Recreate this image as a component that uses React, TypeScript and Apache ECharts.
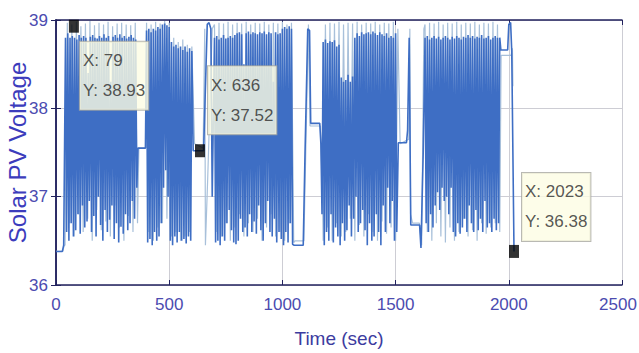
import React, { useEffect, useRef } from "react";
import * as echarts from "echarts";

// ---------- data ----------
// dark (main) trace
const leadDark = [[0, 36.38], [28, 36.38], [34, 36.45]];
const blockADark = [
  38.8, 36.6, 38.85, 36.5, 38.8, 36.7, 38.82, 36.55, 38.8, 36.62, 38.78, 36.8, 38.83, 36.58, 38.8, 36.9,
  38.82, 36.65, 38.8, 36.72, 38.4, 36.95, 38.81, 36.6, 38.83, 36.78, 38.8, 36.55, 38.79, 37.0, 38.82, 36.68,
  38.8, 36.5, 38.84, 36.85, 38.8, 36.6, 38.82, 36.74, 38.3, 36.9, 38.81, 36.52, 38.83, 36.7, 38.8, 36.48,
  38.84, 36.66, 38.8, 36.58, 38.82, 36.8, 38.79, 36.62, 38.81, 36.7, 38.83, 36.95, 38.8, 36.75, 38.78, 37.1,
];
const gapABDark = [[362, 37.55], [395, 37.55]];
const blockBDark = [
  38.88, 36.48, 38.9, 36.52, 38.86, 36.45, 38.9, 36.6, 38.88, 36.5, 38.92, 36.55, 38.9, 36.7,
  38.95, 37.1, 38.96, 37.3, 38.94, 37.0, 38.92,
  36.5, 38.75, 36.45, 38.7, 36.55, 38.72, 36.48, 38.68, 36.6, 38.7, 36.5, 38.66, 36.52, 38.7, 36.47, 38.64, 36.55, 38.68, 36.5, 38.65,
];
const gapBCDark = [[606, 37.52], [652, 37.52], [668, 38.95], [676, 38.97], [684, 38.9], [690, 37.0]];
const blockCDark = [
  38.8, 36.48, 38.82, 36.5, 38.78, 36.45, 38.8, 36.55, 38.83, 36.5, 38.79, 36.7, 38.8, 36.85, 38.82, 36.62, 38.8, 36.48, 38.83, 36.46,
  38.85, 36.5, 38.86, 36.75, 38.84, 36.6, 38.5, 36.65, 38.85, 36.55, 38.87, 36.8, 38.84, 36.6, 38.86, 36.72, 38.85, 36.58, 38.84, 36.9,
  38.86, 36.62, 38.85, 36.5, 38.87, 36.7, 38.84, 36.95, 38.86, 36.6, 38.85, 36.55, 38.3, 36.75, 38.86, 36.48, 38.84, 36.6, 38.85, 36.52,
  38.9, 36.45, 38.92, 36.6, 38.9, 36.48, 38.93, 36.7, 38.9, 36.46,
];
const gapCDDark = [[1052, 36.45], [1092, 36.45], [1100, 37.5], [1112, 38.9], [1120, 38.88], [1125, 37.83], [1165, 37.83], [1170, 37.6], [1175, 36.8]];
const blockDDark = [
  38.75, 36.45, 38.78, 36.6, 38.74, 36.5, 38.76, 36.8, 38.75, 36.48, 38.77, 36.65, 38.7, 36.55, 38.72, 36.45, 38.35, 36.7, 38.3, 36.5,
  38.32, 36.62, 38.38, 36.9, 38.3, 36.55, 38.36, 36.75, 38.8, 37.0, 38.85, 36.6, 38.82, 36.7, 38.86, 36.85, 38.84, 36.62, 38.85, 36.45,
  38.86, 36.7, 38.84, 36.5, 38.87, 36.55, 38.85, 36.8, 38.83, 36.6, 38.86, 36.45, 38.84, 36.9, 38.82, 36.6, 38.85, 37.1, 38.8, 36.7,
  38.82, 36.95, 38.8, 36.5, 38.85, 36.6,
];
const gapDEDark = [[1512, 37.61], [1548, 37.61], [1553, 37.75], [1560, 38.8], [1567, 36.68], [1606, 36.68], [1612, 36.42], [1622, 37.5]];
const blockEDark = [
  38.8, 36.7, 38.82, 36.6, 38.78, 36.8, 38.8, 36.65, 38.82, 36.9, 38.79, 37.05, 38.81, 36.85, 38.78, 37.1, 38.8, 36.95, 38.82, 37.0,
  38.8, 36.8, 38.78, 37.1, 38.81, 36.6, 38.79, 36.55, 38.82, 36.7, 38.8, 36.58, 38.78, 36.65, 38.81, 36.75, 38.8, 36.6, 38.83, 36.9,
  38.8, 36.7, 38.82, 36.6, 38.79, 36.85, 38.81, 36.62, 38.8, 36.75, 38.83, 36.6, 38.79, 36.95, 38.8, 36.65, 38.82, 36.7, 38.78, 36.6,
  38.8, 36.75, 38.82, 36.62, 38.8, 36.7, 38.8,
];
const tailDark = [[1965, 38.66], [1995, 38.66], [2000, 38.95], [2008, 38.97], [2013, 38.65], [2023, 36.38]];

// light (secondary) trace
const leadLight = [[0, 36.38], [30, 36.38], [36, 36.45]];
const blockALight = [
  36.45, 38.97, 36.7, 38.95, 36.55, 38.98, 36.8, 38.93, 36.6, 38.96, 36.75, 38.99, 36.5, 38.94, 36.85, 38.97,
  36.62, 38.95, 36.72, 38.98, 36.55, 38.93, 36.9, 38.96, 36.65, 38.97, 36.5, 38.95, 36.78, 38.94, 36.6, 38.97, 36.7,
];
const gapABLight = [[366, 37.55], [396, 37.55]];
const blockBLight = [
  38.97, 36.6, 38.95, 36.5, 38.98, 36.65, 38.96, 36.7, 38.99, 36.75, 38.97, 36.55, 38.8, 36.6, 38.75, 36.5, 38.78, 36.55, 38.72, 36.6, 38.7,
];
const gapBCLight = [[612, 37.6], [650, 37.55], [657, 38.9], [660, 36.45], [670, 37.2], [690, 38.9]];
const blockCLight = [
  38.95, 36.6, 38.97, 36.55, 38.96, 36.7, 38.98, 36.5, 38.95, 36.65, 38.97, 36.8, 38.96, 36.55, 38.98, 36.7, 38.95, 36.6,
  38.97, 36.75, 38.96, 36.5, 38.98, 36.65, 38.95, 36.8, 38.97, 36.55, 38.96, 36.6, 38.98, 36.5, 38.95, 36.7, 38.97, 36.48,
];
const gapCDLight = [[1056, 36.5], [1095, 36.5], [1115, 38.95], [1122, 37.8], [1168, 37.8], [1178, 36.9]];
const blockDLight = [
  36.5, 38.95, 36.65, 38.97, 36.5, 38.96, 36.7, 38.98, 36.55, 38.95, 36.6, 38.97, 36.75, 38.96, 36.5, 38.98, 36.68,
  38.95, 36.55, 38.97, 36.8, 38.96, 36.6, 38.98, 36.5, 38.95, 36.72, 38.97, 36.58, 38.96, 36.65, 38.98, 36.5, 38.9,
];
const gapDELight = [[1520, 37.6], [1558, 37.65], [1563, 38.9], [1566, 36.8], [1575, 36.7], [1605, 36.7], [1615, 36.45], [1625, 38.9]];
const blockELight = [
  38.95, 36.6, 38.97, 36.5, 38.96, 36.7, 38.98, 36.55, 38.95, 36.48, 38.97, 36.65, 38.96, 36.5, 38.98, 36.6, 38.95, 36.75,
  38.97, 36.55, 38.96, 36.62, 38.98, 36.5, 38.95, 36.7, 38.97, 36.58, 38.96, 36.65, 38.98, 36.7, 38.95, 36.6,
];
const tailLight = [[1966, 38.6], [2010, 38.6], [2016, 38.68], [2018, 38.25]];

// data tips
const tipPoints = [[79, 38.93], [636, 37.52], [2023, 36.38]];
const tipOffsets = [[11, 22], [13, -78], [13, -72]];

const xTicks = { min: 0, max: 2500, interval: 500 };
const yTicks = { min: 36, max: 39, interval: 1 };

// sampled blocks: start time and sampling step (seconds)
const seq = (t0: number, dt: number, vals: number[]) => vals.map((v, i) => [t0 + i * dt, v]);

const darkData = [
  ...leadDark,
  ...seq(42, 5, blockADark),
  ...gapABDark,
  ...seq(400, 5, blockBDark),
  ...gapBCDark,
  ...seq(700, 5, blockCDark),
  ...gapCDDark,
  ...seq(1180, 5, blockDDark),
  ...gapDEDark,
  ...seq(1630, 5, blockEDark),
  ...tailDark,
];
const lightData = [
  ...leadLight,
  ...seq(40, 10, blockALight),
  ...gapABLight,
  ...seq(400, 10, blockBLight),
  ...gapBCLight,
  ...seq(700, 10, blockCLight),
  ...gapCDLight,
  ...seq(1180, 10, blockDLight),
  ...gapDELight,
  ...seq(1630, 10, blockELight),
  ...tailLight,
];

const SANS = "'Liberation Sans', Arial, sans-serif";
const AXIS = "#22225e";
const GRIDC = "#cdcdd4";
const TICKC = "#4b4bb0";

export default function App() {
  const ref = useRef<HTMLDivElement>(null);
  useEffect(() => {
    if (!ref.current) return;
    const chart = echarts.init(ref.current, null, { renderer: "svg" });
    const hiddenAxis = {
      axisLine: { show: true, lineStyle: { color: AXIS, width: 1.5 } },
      axisTick: { show: true, inside: true, length: 5, lineStyle: { color: AXIS } },
      axisLabel: { show: false },
      splitLine: { show: false },
    };
    chart.setOption({
      animation: false,
      backgroundColor: "#ffffff",
      grid: { left: 56, right: 17, top: 20, bottom: 68, containLabel: false, outerBoundsMode: "none" },
      xAxis: [
        {
          type: "value",
          ...xTicks,
          name: "Time (sec)",
          nameLocation: "middle",
          nameGap: 44,
          nameMoveOverlap: false,
          nameTextStyle: { fontFamily: SANS, fontSize: 19, color: "#3c3ca0" },
          axisLine: { show: true, onZero: false, lineStyle: { color: AXIS, width: 1.5 } },
          axisTick: { show: true, inside: true, length: 5, lineStyle: { color: AXIS } },
          axisLabel: {
            fontFamily: SANS,
            fontSize: 17,
            color: TICKC,
            margin: 11,
            formatter: (v: number) => (v === xTicks.max ? `{edge|${v}}` : String(v)),
            rich: { edge: { fontFamily: SANS, fontSize: 17, color: TICKC, padding: [0, 8, 0, 0] } },
          },
          splitLine: { show: true, lineStyle: { color: GRIDC, width: 1 } },
        },
        { type: "value", ...xTicks, position: "top", ...hiddenAxis },
      ],
      yAxis: [
        {
          type: "value",
          ...yTicks,
          name: "Solar PV Voltage",
          nameLocation: "middle",
          nameGap: 27,
          nameMoveOverlap: false,
          nameRotate: 90,
          nameTextStyle: { fontFamily: SANS, fontSize: 24, color: "#3c3cbc" },
          axisLine: { show: true, onZero: false, lineStyle: { color: AXIS, width: 1.5 } },
          axisTick: { show: true, inside: true, length: 5, lineStyle: { color: AXIS } },
          axisLabel: { fontFamily: SANS, fontSize: 17, color: TICKC, margin: 8, formatter: (v: number) => String(v) },
          splitLine: { show: true, lineStyle: { color: GRIDC, width: 1 } },
        },
        { type: "value", ...yTicks, position: "right", ...hiddenAxis },
      ],
      series: [
        {
          type: "line",
          data: lightData,
          showSymbol: false,
          symbol: "none",
          lineStyle: { color: "#a8c0da", width: 1.2 },
          z: 1,
        },
        {
          type: "line",
          data: darkData,
          showSymbol: false,
          symbol: "none",
          lineStyle: { color: "#3e6ec4", width: 1.6 },
          z: 2,
        },
        {
          type: "scatter",
          symbol: "rect",
          symbolSize: [10, 13],
          itemStyle: { color: "#000000" },
          z: 5,
          data: tipPoints.map((p, i) => ({
            value: p,
            label: { position: tipOffsets[i] },
          })),
          label: {
            show: true,
            formatter: (p: any) => `X: ${p.value[0]}\nY: ${p.value[1].toFixed(2)}`,
            backgroundColor: "#fdfde3",
            borderColor: "#a8a8a0",
            borderWidth: 1,
            padding: [4, 3],
            lineHeight: 30,
            fontFamily: SANS,
            fontSize: 17,
            color: "#2b2b2b",
            align: "left",
            verticalAlign: "top",
          },
        },
      ],
    });
    return () => chart.dispose();
  }, []);
  return <div ref={ref} style={{ position: "fixed", left: 0, top: 0, width: 639, height: 353 }} />;
}
